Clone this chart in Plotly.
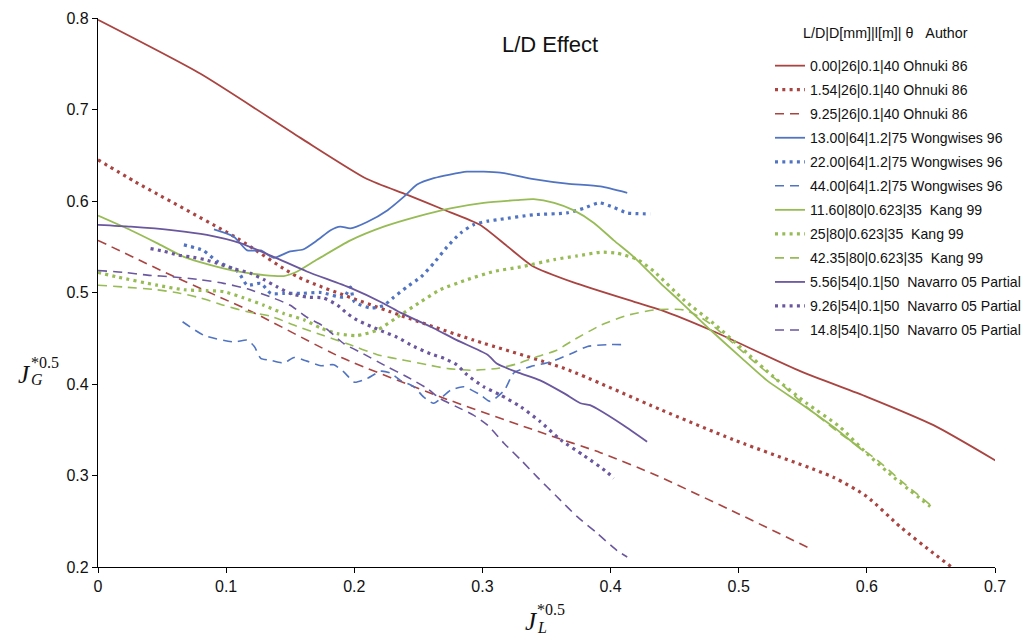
import plotly.graph_objects as go

# ---------------- data ----------------
# Ohnuki 86
ohnuki_000_x = [0.0, 0.080, 0.158, 0.210, 0.241, 0.269, 0.298, 0.319, 0.339, 0.371, 0.418, 0.439, 0.478, 0.548, 0.600, 0.652, 0.702]
ohnuki_000_y = [0.798, 0.739, 0.669, 0.624, 0.607, 0.591, 0.574, 0.551, 0.529, 0.511, 0.490, 0.481, 0.459, 0.414, 0.386, 0.355, 0.315]

ohnuki_154_x = [0.0, 0.029, 0.109, 0.156, 0.236, 0.293, 0.364, 0.439, 0.496, 0.574, 0.600, 0.626, 0.652, 0.667]
ohnuki_154_y = [0.645, 0.621, 0.559, 0.517, 0.475, 0.448, 0.417, 0.372, 0.339, 0.298, 0.277, 0.244, 0.215, 0.199]

ohnuki_925_x = [0.0, 0.06, 0.12, 0.19, 0.267, 0.35, 0.392, 0.436, 0.50, 0.556]
ohnuki_925_y = [0.557, 0.517, 0.479, 0.429, 0.386, 0.345, 0.325, 0.300, 0.258, 0.220]

# Wongwises 96
wong_1300_x = [0.0905, 0.106, 0.1165, 0.127, 0.137, 0.150, 0.160, 0.171, 0.1815, 0.189, 0.197, 0.210, 0.226, 0.239, 0.249, 0.262, 0.288, 0.314, 0.340, 0.366, 0.392, 0.413]
wong_1300_y = [0.569, 0.561, 0.546, 0.546, 0.538, 0.545, 0.547, 0.557, 0.568, 0.572, 0.570, 0.577, 0.590, 0.605, 0.618, 0.625, 0.632, 0.631, 0.624, 0.619, 0.616, 0.609]

wong_2200_x = [0.067, 0.082, 0.093, 0.109, 0.1165, 0.127, 0.135, 0.145, 0.158, 0.174, 0.192, 0.197, 0.200, 0.213, 0.223, 0.231, 0.241, 0.252, 0.262, 0.2725, 0.283, 0.293, 0.304, 0.314, 0.340, 0.366, 0.379, 0.391, 0.4025, 0.413, 0.431]
wong_2200_y = [0.552, 0.546, 0.534, 0.523, 0.508, 0.510, 0.499, 0.499, 0.499, 0.500, 0.495, 0.506, 0.490, 0.483, 0.486, 0.495, 0.506, 0.517, 0.532, 0.550, 0.565, 0.574, 0.578, 0.580, 0.585, 0.587, 0.592, 0.598, 0.593, 0.587, 0.586]

wong_4400_x = [0.066, 0.083, 0.106, 0.1165, 0.122, 0.127, 0.1345, 0.145, 0.153, 0.163, 0.174, 0.184, 0.192, 0.200, 0.210, 0.2205, 0.228, 0.236, 0.2465, 0.254, 0.262, 0.275, 0.2855, 0.2985, 0.306, 0.317, 0.3245, 0.3375, 0.353, 0.369, 0.382, 0.397, 0.413]
wong_4400_y = [0.468, 0.453, 0.446, 0.448, 0.441, 0.428, 0.426, 0.423, 0.429, 0.425, 0.420, 0.421, 0.413, 0.402, 0.406, 0.414, 0.412, 0.404, 0.397, 0.386, 0.379, 0.393, 0.397, 0.388, 0.381, 0.393, 0.412, 0.419, 0.424, 0.433, 0.441, 0.443, 0.443]

# Kang 99
kang_1160_x = [0.0, 0.0256, 0.046, 0.067, 0.088, 0.109, 0.1295, 0.145, 0.1555, 0.171, 0.197, 0.223, 0.249, 0.275, 0.301, 0.327, 0.340, 0.356, 0.371, 0.387, 0.4025, 0.418, 0.439, 0.453, 0.478, 0.501, 0.522, 0.548, 0.574, 0.596]
kang_1160_y = [0.584, 0.568, 0.554, 0.539, 0.530, 0.523, 0.519, 0.518, 0.523, 0.536, 0.557, 0.572, 0.583, 0.592, 0.598, 0.601, 0.602, 0.598, 0.590, 0.576, 0.557, 0.539, 0.510, 0.492, 0.459, 0.430, 0.404, 0.379, 0.353, 0.328]

kang_2500_x = [0.0, 0.015, 0.046, 0.067, 0.085, 0.098, 0.114, 0.1295, 0.145, 0.161, 0.174, 0.187, 0.202, 0.218, 0.2335, 0.252, 0.267, 0.288, 0.309, 0.330, 0.356, 0.374, 0.392, 0.405, 0.421, 0.434, 0.457, 0.4805, 0.504, 0.527, 0.553, 0.579, 0.600, 0.621, 0.6495]
kang_2500_y = [0.522, 0.517, 0.508, 0.503, 0.502, 0.501, 0.494, 0.486, 0.477, 0.470, 0.461, 0.455, 0.453, 0.459, 0.473, 0.490, 0.503, 0.514, 0.523, 0.528, 0.536, 0.540, 0.544, 0.543, 0.536, 0.523, 0.492, 0.466, 0.437, 0.408, 0.379, 0.353, 0.324, 0.298, 0.266]

kang_4235_x = [0.0, 0.020, 0.046, 0.0645, 0.080, 0.098, 0.1165, 0.135, 0.1555, 0.176, 0.1945, 0.218, 0.239, 0.257, 0.2725, 0.291, 0.3115, 0.327, 0.343, 0.358, 0.371, 0.392, 0.413, 0.434, 0.457, 0.470, 0.4805, 0.496, 0.514, 0.5325, 0.553, 0.579, 0.608, 0.626, 0.6495]
kang_4235_y = [0.508, 0.506, 0.503, 0.499, 0.494, 0.486, 0.479, 0.474, 0.463, 0.453, 0.444, 0.432, 0.426, 0.421, 0.417, 0.415, 0.417, 0.422, 0.430, 0.437, 0.448, 0.464, 0.475, 0.481, 0.481, 0.473, 0.463, 0.444, 0.422, 0.401, 0.375, 0.346, 0.317, 0.295, 0.268]

# Navarro 05 Partial
nav_556_x = [0.0, 0.0256, 0.059, 0.085, 0.111, 0.137, 0.163, 0.197, 0.223, 0.236, 0.262, 0.280, 0.304, 0.3115, 0.327, 0.345, 0.3635, 0.3765, 0.384, 0.3895, 0.410, 0.4285]
nav_556_y = [0.574, 0.572, 0.568, 0.563, 0.554, 0.539, 0.523, 0.505, 0.488, 0.478, 0.461, 0.448, 0.432, 0.422, 0.413, 0.404, 0.390, 0.379, 0.377, 0.373, 0.355, 0.337]

nav_926_x = [0.041, 0.0515, 0.062, 0.072, 0.083, 0.093, 0.106, 0.119, 0.1295, 0.140, 0.150, 0.163, 0.176, 0.187, 0.1945, 0.202, 0.213, 0.223, 0.2335, 0.2465, 0.2595, 0.270, 0.280, 0.288, 0.301, 0.314, 0.330, 0.345, 0.361, 0.379, 0.397, 0.4025]
nav_926_y = [0.548, 0.545, 0.541, 0.539, 0.536, 0.532, 0.526, 0.521, 0.514, 0.506, 0.499, 0.495, 0.494, 0.486, 0.477, 0.470, 0.463, 0.457, 0.451, 0.441, 0.433, 0.428, 0.421, 0.410, 0.397, 0.388, 0.375, 0.359, 0.339, 0.322, 0.304, 0.297]

nav_1480_x = [0.0, 0.020, 0.0385, 0.059, 0.080, 0.098, 0.1165, 0.135, 0.150, 0.163, 0.176, 0.192, 0.207, 0.2255, 0.241, 0.257, 0.267, 0.280, 0.293, 0.304, 0.317, 0.330, 0.343, 0.358, 0.374, 0.3895, 0.405, 0.413]
nav_1480_y = [0.524, 0.522, 0.519, 0.517, 0.514, 0.510, 0.504, 0.495, 0.486, 0.473, 0.463, 0.444, 0.433, 0.419, 0.408, 0.395, 0.384, 0.375, 0.366, 0.355, 0.335, 0.317, 0.298, 0.277, 0.255, 0.237, 0.218, 0.211]

series_names = [
    "0.00|26|0.1|40 Ohnuki 86",
    "1.54|26|0.1|40 Ohnuki 86",
    "9.25|26|0.1|40 Ohnuki 86",
    "13.00|64|1.2|75 Wongwises 96",
    "22.00|64|1.2|75 Wongwises 96",
    "44.00|64|1.2|75 Wongwises 96",
    "11.60|80|0.623|35\u00a0 Kang 99",
    "25|80|0.623|35\u00a0 Kang 99",
    "42.35|80|0.623|35\u00a0 Kang 99",
    "5.56|54|0.1|50\u00a0 Navarro 05 Partial",
    "9.26|54|0.1|50\u00a0 Navarro 05 Partial",
    "14.8|54|0.1|50\u00a0 Navarro 05 Partial",
]

series_x = [ohnuki_000_x, ohnuki_154_x, ohnuki_925_x,
            wong_1300_x, wong_2200_x, wong_4400_x,
            kang_1160_x, kang_2500_x, kang_4235_x,
            nav_556_x, nav_926_x, nav_1480_x]
series_y = [ohnuki_000_y, ohnuki_154_y, ohnuki_925_y,
            wong_1300_y, wong_2200_y, wong_4400_y,
            kang_1160_y, kang_2500_y, kang_4235_y,
            nav_556_y, nav_926_y, nav_1480_y]

# ---------------- styling ----------------
RED = "#A94441"
BLUE = "#5174C2"
GREEN = "#97BB55"
PURPLE = "#6A579E"
colors = [RED] * 3 + [BLUE] * 3 + [GREEN] * 3 + [PURPLE] * 3

SOLID = dict(dash="solid", width=1.8)
DOTTED = dict(dash="3px,4.3px", width=3.2)
DASHED = dict(dash="9px,6px", width=1.6)
styles = [SOLID, DOTTED, DASHED] * 4

fig = go.Figure()
for i, (name, xs, ys) in enumerate(zip(series_names, series_x, series_y)):
    st = styles[i]
    fig.add_trace(go.Scatter(
        x=xs, y=ys, mode="lines", name=name,
        legendgroup=f"g{i}",
        line=dict(color=colors[i], width=st["width"], dash=st["dash"],
                  shape="spline", smoothing=0.6),
    ))

# plot-area geometry in pixels (used to place free text)
W, H = 1026, 643
ML, MR, MT, MB = 98, 31, 18, 76
PW, PH = W - ML - MR, H - MT - MB


def px(xp):
    return (xp - ML) / PW


def py(yp):
    return (H - MB - yp) / PH


FONT = "Liberation Sans, Arial, sans-serif"
SERIF = "Liberation Serif, DejaVu Serif, serif"
INK = "#111111"

annotations = [
    dict(text="L/D Effect", x=px(550), y=py(44), xref="paper", yref="paper",
         showarrow=False, xanchor="center", yanchor="middle",
         font=dict(family=FONT, size=22, color=INK)),
    dict(text="L/D|D[mm]|l[m]| θ \u00a0 Author", x=px(885), y=py(33), xref="paper", yref="paper",
         showarrow=False, xanchor="center", yanchor="middle",
         font=dict(family=FONT, size=14.3, color=INK)),
    # x-axis title: J_L^{*0.5}
    dict(text="<i>J</i>", x=px(531), y=py(621), xref="paper", yref="paper",
         showarrow=False, xanchor="center", yanchor="middle",
         font=dict(family=SERIF, size=25, color=INK)),
    dict(text="*0.5", x=px(535), y=py(609), xref="paper", yref="paper",
         showarrow=False, xanchor="left", yanchor="middle",
         font=dict(family=SERIF, size=16, color=INK)),
    dict(text="<i>L</i>", x=px(535), y=py(627), xref="paper", yref="paper",
         showarrow=False, xanchor="left", yanchor="middle",
         font=dict(family=SERIF, size=16, color=INK)),
    # y-axis title: J_G^{*0.5}
    dict(text="<i>J</i>", x=px(24), y=py(374), xref="paper", yref="paper",
         showarrow=False, xanchor="center", yanchor="middle",
         font=dict(family=SERIF, size=25, color=INK)),
    dict(text="*0.5", x=px(29), y=py(362), xref="paper", yref="paper",
         showarrow=False, xanchor="left", yanchor="middle",
         font=dict(family=SERIF, size=16, color=INK)),
    dict(text="<i>G</i>", x=px(29), y=py(380), xref="paper", yref="paper",
         showarrow=False, xanchor="left", yanchor="middle",
         font=dict(family=SERIF, size=16, color=INK)),
]

axis_common = dict(
    showgrid=False, zeroline=False, showline=True,
    linecolor="#000000", linewidth=1.3,
    ticks="outside", ticklen=5, tickwidth=1.3, tickcolor="#000000",
    tickfont=dict(family=FONT, size=16, color=INK),
    dtick=0.1, tick0=0, fixedrange=True,
)

fig.update_layout(
    width=W, height=H,
    margin=dict(l=ML, r=MR, t=MT, b=MB, pad=0, autoexpand=False),
    paper_bgcolor="white", plot_bgcolor="white",
    xaxis=dict(range=[0, 0.7], **axis_common),
    yaxis=dict(range=[0.2, 0.8], **axis_common),
    showlegend=True,
    legend=dict(
        x=px(770), y=py(50), xanchor="left", yanchor="top",
        bgcolor="rgba(0,0,0,0)", borderwidth=0,
        font=dict(family=FONT, size=14.1, color=INK),
        tracegroupgap=2.7, itemwidth=30,
    ),
    annotations=annotations,
)

fig.write_html("out.html")
